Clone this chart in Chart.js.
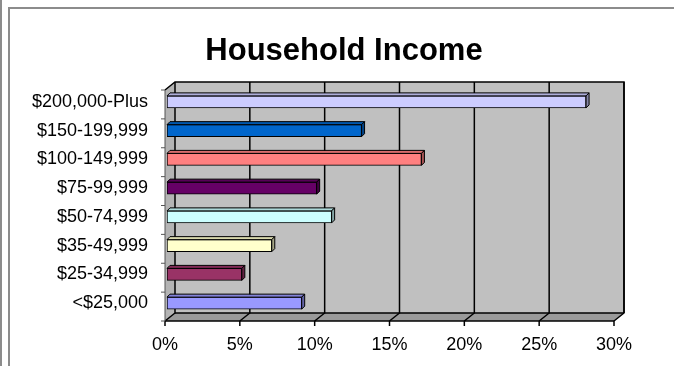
<!DOCTYPE html>
<html lang="en">
  <head>
    <meta charset="UTF-8" />
    <title>Household Income</title>
    <style>
      body { margin: 0; background: #fff; }
      #wrap { position: relative; width: 674px; height: 366px; overflow: hidden; }
      #grafico { position: absolute; left: 0; top: 0; }
      .linha { position: absolute; background: #8c8c8c; }
    </style>
  </head>
  <body>
    <div id="wrap">
      <canvas id="grafico" width="674" height="366"></canvas>
      <div class="linha" style="left:0; top:0; width:2px; height:366px"></div>
      <div class="linha" style="left:8px; top:7px; width:2px; height:359px"></div>
      <div class="linha" style="left:8px; top:7px; width:666px; height:2px"></div>
    </div>
    <script src="https://cdn.jsdelivr.net/npm/chart.js"></script>
    <script>
      // dados
      const faixas = [
        "$200,000-Plus",
        "$150-199,999",
        "$100-149,999",
        "$75-99,999",
        "$50-74,999",
        "$35-49,999",
        "$25-34,999",
        "<$25,000",
      ];
      const percentuais = [28, 13, 17, 10, 11, 7, 5, 9];
      const cores = [
        "#CCCCFF",
        "#0066CC",
        "#FF8080",
        "#660066",
        "#CCFFFF",
        "#FFFFCC",
        "#993366",
        "#9999FF",
      ];
      const ticksX = [0, 5, 10, 15, 20, 25, 30];

      // escurece uma cor hex
      function sombra(hex, f) {
        const n = parseInt(hex.slice(1), 16);
        const r = Math.round(((n >> 16) & 255) * f);
        const g = Math.round(((n >> 8) & 255) * f);
        const b = Math.round((n & 255) * f);
        return `rgb(${r},${g},${b})`;
      }

      const DX = 10, DY = 8; // profundidade das paredes
      const BX = 3, BY = 3;  // profundidade das barras

      // paredes, piso e grade em 3D
      const paredes = {
        id: "paredes",
        beforeDatasetsDraw(chart) {
          const { ctx, chartArea: a, scales } = chart;
          const xs = scales.x;
          const fy0 = a.top + 2.5, fy1 = a.bottom + 3.5;
          const fx0 = xs.getPixelForValue(0) - 2;
          const fx1 = xs.getPixelForValue(30) - 2;
          ctx.save();
          // parede do fundo
          ctx.fillStyle = "#c0c0c0";
          ctx.fillRect(fx0 + DX, fy0 - DY, fx1 - fx0, fy1 - fy0);
          // parede lateral
          ctx.fillStyle = "#b4b4b4";
          ctx.beginPath();
          ctx.moveTo(fx0, fy0);
          ctx.lineTo(fx0 + DX, fy0 - DY);
          ctx.lineTo(fx0 + DX, fy1 - DY);
          ctx.lineTo(fx0, fy1);
          ctx.closePath();
          ctx.fill();
          // piso
          ctx.fillStyle = "#9a9a9a";
          ctx.beginPath();
          ctx.moveTo(fx0, fy1);
          ctx.lineTo(fx0 + DX, fy1 - DY);
          ctx.lineTo(fx1 + DX, fy1 - DY);
          ctx.lineTo(fx1, fy1);
          ctx.closePath();
          ctx.fill();

          ctx.strokeStyle = "#000";
          ctx.lineWidth = 1.5;
          ticksX.forEach((t) => {
            const x = xs.getPixelForValue(t) - 2;
            ctx.beginPath();
            ctx.moveTo(x + DX, fy0 - DY);
            ctx.lineTo(x + DX, fy1 - DY);
            ctx.lineTo(x, fy1);
            ctx.stroke();
          });
          // contorno da parede
          ctx.beginPath();
          ctx.moveTo(fx0, fy0);
          ctx.lineTo(fx0 + DX, fy0 - DY);
          ctx.lineTo(fx1 + DX, fy0 - DY);
          ctx.lineTo(fx1 + DX, fy1 - DY);
          ctx.stroke();
          ctx.beginPath();
          ctx.moveTo(fx0 + DX, fy1 - DY);
          ctx.lineTo(fx1 + DX, fy1 - DY);
          ctx.stroke();

          // eixos da frente
          ctx.lineWidth = 1.5;
          ctx.beginPath();
          ctx.moveTo(fx0, fy1);
          ctx.lineTo(fx1, fy1);
          ctx.stroke();
          ticksX.forEach((t) => {
            const x = xs.getPixelForValue(t) - 2;
            ctx.beginPath();
            ctx.moveTo(x, fy1);
            ctx.lineTo(x, fy1 + 5);
            ctx.stroke();
          });
          ctx.strokeStyle = "#555";
          ctx.lineWidth = 1;
          ctx.beginPath();
          ctx.moveTo(fx0, fy0);
          ctx.lineTo(fx0, fy1);
          ctx.stroke();
          const passo = (fy1 - fy0) / faixas.length;
          for (let i = 0; i <= faixas.length; i++) {
            const y = fy0 + i * passo;
            ctx.beginPath();
            ctx.moveTo(fx0 - 4, y);
            ctx.lineTo(fx0, y);
            ctx.stroke();
          }
          ctx.restore();
        },
        // topo e ponta das barras
        afterDatasetsDraw(chart) {
          const { ctx } = chart;
          const meta = chart.getDatasetMeta(0);
          ctx.save();
          ctx.strokeStyle = "#000";
          ctx.lineWidth = 1;
          meta.data.forEach((bar, i) => {
            const p = bar.getProps(["x", "y", "base", "height"], true);
            const top = p.y - p.height / 2, bot = p.y + p.height / 2;
            ctx.fillStyle = sombra(cores[i], 0.85);
            ctx.beginPath();
            ctx.moveTo(p.base, top);
            ctx.lineTo(p.base + BX, top - BY);
            ctx.lineTo(p.x + BX, top - BY);
            ctx.lineTo(p.x, top);
            ctx.closePath();
            ctx.fill();
            ctx.stroke();
            ctx.fillStyle = sombra(cores[i], 0.65);
            ctx.beginPath();
            ctx.moveTo(p.x, top);
            ctx.lineTo(p.x + BX, top - BY);
            ctx.lineTo(p.x + BX, bot - BY);
            ctx.lineTo(p.x, bot);
            ctx.closePath();
            ctx.fill();
            ctx.stroke();
          });
          ctx.restore();
        },
      };

      const fonte = "'Liberation Sans', Arial, sans-serif";

      new Chart(grafico, {
        type: "bar",
        data: {
          labels: faixas,
          datasets: [
            {
              label: "Household Income",
              data: percentuais,
              backgroundColor: cores,
              borderColor: "#000",
              borderWidth: 1,
              borderSkipped: false,
              barThickness: 12,
            },
          ],
        },
        options: {
          indexAxis: "y",
          responsive: false,
          animation: false,
          layout: { padding: { left: 14, right: 0, top: 0, bottom: 0 } },
          plugins: {
            legend: { display: false },
            tooltip: { enabled: false },
            title: {
              display: true,
              text: "Household Income",
              color: "#000",
              font: { family: fonte, size: 31, weight: "bold" },
              padding: { top: 33, bottom: 17.3 },
            },
          },
          scales: {
            x: {
              min: 0,
              max: 30,
              grid: { display: false, drawTicks: false },
              border: { display: false },
              ticks: {
                stepSize: 5,
                color: "#000",
                padding: 17,
                labelOffset: -2,
                font: { family: fonte, size: 18 },
                callback: (v) => v + "%",
              },
              afterFit: (s) => { s.height = 48.5; },
            },
            y: {
              grid: { display: false, drawTicks: false },
              border: { display: false },
              ticks: {
                color: "#000",
                padding: 19,
                font: { family: fonte, size: 18 },
              },
              afterFit: (s) => { s.width = 153; },
            },
            y2: {
              type: "linear",
              position: "right",
              grid: { display: false, drawTicks: false },
              border: { display: false },
              ticks: { display: false },
              afterFit: (s) => { s.width = 58; },
            },
          },
        },
        plugins: [paredes],
      });
    </script>
  </body>
</html>
